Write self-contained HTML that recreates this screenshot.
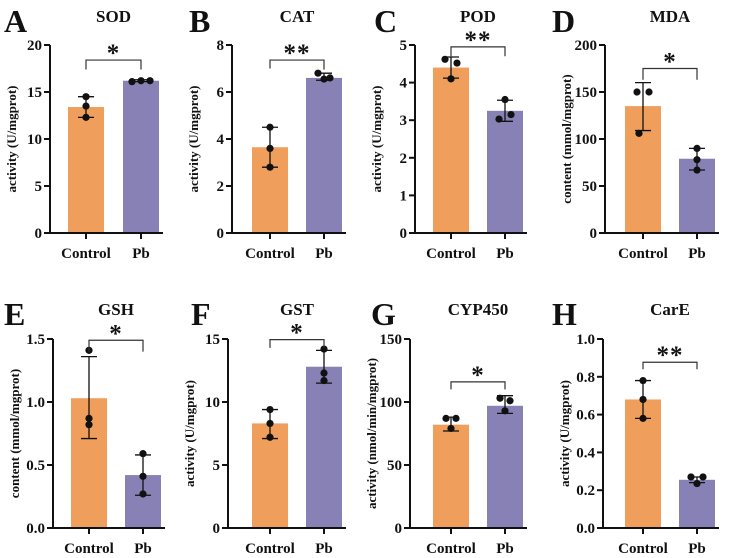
<!DOCTYPE html>
<html><head><meta charset="utf-8">
<style>
body{margin:0;background:#fff;}
svg{display:block;font-family:"Liberation Serif",serif;}
</style></head>
<body>
<svg id="chart" width="740" height="558" viewBox="0 0 740 558"></svg>
<script>
const panelLetters=["A","B","C","D","E","F","G","H"];
const panelTitles=["SOD","CAT","POD","MDA","GSH","GST","CYP450","CarE"];
const yTitles=["activity (U/mgprot)","activity (U/mgprot)","activity (U/mgprot)","content (mmol/mgprot)","content (mmol/mgprot)","activity (U/mgprot)","activity (nmol/min/mgprot)","activity (U/mgprot)"];
const categories=["Control","Pb"];
const yMax=[20,8,5,200,1.5,15,150,1.0];
const tickLabels=[["0","5","10","15","20"],["0","2","4","6","8"],["0","1","2","3","4","5"],["0","50","100","150","200"],["0.0","0.5","1.0","1.5"],["0","5","10","15"],["0","50","100","150"],["0.0","0.2","0.4","0.6","0.8","1.0"]];
const controlMean=[13.4,3.65,4.4,135,1.03,8.3,82,0.68];
const pbMean=[16.2,6.6,3.25,79,0.42,12.8,97,0.255];
const controlErr=[[12.3,14.5],[2.8,4.5],[4.12,4.68],[109,160],[0.71,1.36],[7.1,9.4],[77,88],[0.58,0.78]];
const pbErr=[[16.1,16.3],[6.5,6.8],[2.97,3.53],[67,90],[0.26,0.58],[11.5,14.1],[91,105],[0.24,0.27]];
const controlPoints=[[14.5,13.5,12.3],[4.5,3.6,2.8],[4.62,4.52,4.1],[150,150,106],[1.41,0.87,0.82],[9.4,8.3,7.2],[87,87,79],[0.78,0.68,0.58]];
const pbPoints=[[16.1,16.2,16.2],[6.8,6.6,6.55],[3.55,3.15,3.03],[90,78,67],[0.59,0.41,0.27],[14.2,12.3,11.7],[103,101,93],[0.27,0.27,0.235]];
const bracketLevel=[18.4,7.36,4.95,175,1.49,14.95,116,0.877];
const bracketLeftDrop=[17.4,7.0,4.7,163,1.4,14.3,110,0.84];
const bracketRightDrop=[17.4,6.95,4.7,163,1.4,14.3,110,0.84];
const sigLabels=["*","**","**","*","*","*","*","**"];

// layout (pixel geometry, not data)
const axisX=[50,232,415,605,53,228,410,603];
const barC1=[86,270,451,643,89,270,451,643];
const barC2=[141,324,505,697,143,324,505,697];
const letterX=[4,189,374,552,4,191,371,552];
const rowTop=[45,45,45,45,339,339,339,339];
const rowBot=[233,233,233,233,528,528,528,528];
const ctlJit=[[0,0,0],[0,0,0],[-6,6,0],[-6,6,-4],[0,0,0],[0,0,0],[-5,5,0],[0,0,0]];
const pbJit=[[-9,0,9],[-6,6,0],[0,6,-6],[0,0,0],[0,0,0],[0,0,0],[-5,5,0],[-6,6,0]];

const NS="http://www.w3.org/2000/svg";
const svg=document.getElementById('chart');
function mk(tag,attrs,parent){const e=document.createElementNS(NS,tag);for(const k in attrs)e.setAttribute(k,attrs[k]);(parent||svg).appendChild(e);return e;}

for(let i=0;i<8;i++){
  const g=mk('g',{});
  
  
  const top=rowTop[i],bot=rowBot[i],ax=axisX[i];
  const y=v=>bot-(v/yMax[i])*(bot-top);
  const bw=36;
  const xs=[barC1[i],barC2[i]];
  const xEnd=barC2[i]+22;
  const rowY=i<4?0:293;
  const L=mk('text',{x:letterX[i],y:32+rowY,'font-size':32,'font-weight':'bold',fill:'#111'},g);L.textContent=panelLetters[i];
  
  
  const T=mk('text',{x:(xs[0]+xs[1])/2,y:22+rowY,'font-size':17,'font-weight':'bold','text-anchor':'middle',fill:'#111'},g);T.textContent=panelTitles[i];
  
  
  const means=[controlMean[i],pbMean[i]],cols=['#EF9E5B','#8781B5'];
  const errs=[controlErr[i],pbErr[i]],pts=[controlPoints[i],pbPoints[i]],jit=[ctlJit[i],pbJit[i]];
  for(let b=0;b<2;b++){
    const r=mk('rect',{x:xs[b]-bw/2,y:y(means[b]),width:bw,height:bot-y(means[b]),fill:cols[b]},g);
    
    
    const e=mk('path',{d:`M${xs[b]},${y(errs[b][0])}V${y(errs[b][1])}M${xs[b]-8},${y(errs[b][0])}h16M${xs[b]-8},${y(errs[b][1])}h16`,stroke:'#111','stroke-width':1.3,fill:'none'},g);
    
    
    for(let p=0;p<3;p++){
      const c=mk('circle',{cx:xs[b]+jit[b][p],cy:y(pts[b][p]),r:3.6,fill:'#111'},g);
      
      
    }
  }
  const a=mk('path',{d:`M${ax},${top}V${bot}H${xEnd}`,stroke:'#111','stroke-width':2,fill:'none'},g);
  
  
  const tl=tickLabels[i];
  for(let t=0;t<tl.length;t++){
    const v=parseFloat(tl[t]);
    mk('line',{x1:ax-6,x2:ax,y1:y(v),y2:y(v),stroke:'#111','stroke-width':2},g);
    const tx=mk('text',{x:ax-8,y:y(v)+5,'font-size':15,'font-weight':'bold','text-anchor':'end',fill:'#111'},g);tx.textContent=tl[t];
    
    
  }
  for(let b=0;b<2;b++){
    mk('line',{x1:xs[b],x2:xs[b],y1:bot,y2:bot+6,stroke:'#111','stroke-width':2},g);
    const cx=mk('text',{x:xs[b],y:bot+25,'font-size':15,'font-weight':'bold','text-anchor':'middle',fill:'#111'},g);cx.textContent=categories[b];
    
    
  }
  const yt=mk('text',{x:0,y:0,'font-size':13,'font-weight':'bold','text-anchor':'middle',fill:'#111',transform:`translate(${ax-34},${(top+bot)/2}) rotate(-90)`},g);yt.textContent=yTitles[i];
  
  
  const by=y(bracketLevel[i]);
  const br=mk('path',{d:`M${xs[0]},${y(bracketLeftDrop[i])}V${by}H${xs[1]}V${y(bracketRightDrop[i])}`,stroke:'#333','stroke-width':1.2,fill:'none'},g);
  
  
  const s=mk('text',{x:(xs[0]+xs[1])/2,y:by+1,'font-size':25,'font-weight':'bold','text-anchor':'middle',fill:'#111','letter-spacing':1},g);s.textContent=sigLabels[i];
  
  
}
</script>
</body></html>
